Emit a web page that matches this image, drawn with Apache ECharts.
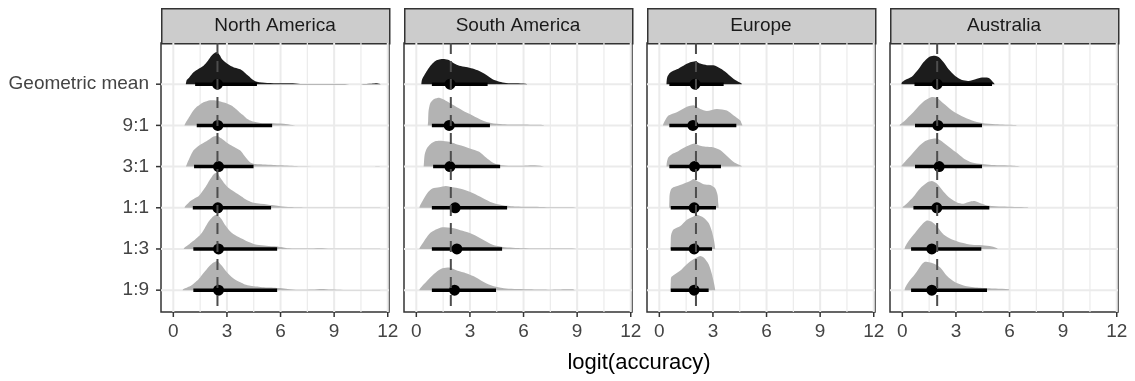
<!DOCTYPE html>
<html>
<head>
<meta charset="utf-8">
<script src="https://cdn.jsdelivr.net/npm/echarts@6/dist/echarts.min.js"></script>
<style>html,body{margin:0;padding:0;background:#fff}#chart{width:1135px;height:381px}</style>
</head>
<body>
<div id="chart"></div>
<script>
// Facets and rows
const regions = ['North America', 'South America', 'Europe', 'Australia'];
const rowLabels = ['1:9', '1:3', '1:1', '3:1', '9:1', 'Geometric mean'];
const xTicks = [0, 3, 6, 9, 12];
const xGridLines = [0, 1.5, 3, 4.5, 6, 7.5, 9, 10.5, 12];
const rowIdx = [0, 1, 2, 3, 4, 5];

// Reference (dashed) line per region
const refLine = [2.47, 1.93, 2.05, 1.95];

// Point estimates and intervals, rows ordered 1:9, 1:3, 1:1, 3:1, 9:1, Geometric mean
const medianNA = [2.53, 2.53, 2.49, 2.53, 2.49, 2.47];
const lowerNA = [1.12, 1.12, 1.09, 1.16, 1.31, 1.22];
const upperNA = [5.81, 5.81, 5.47, 4.49, 5.53, 4.68];

const medianSA = [2.14, 2.27, 2.17, 1.88, 1.84, 1.89];
const lowerSA = [0.87, 0.87, 0.87, 0.94, 0.87, 0.87];
const upperSA = [4.46, 4.80, 5.08, 4.69, 4.12, 3.99];

const medianEU = [1.95, 1.95, 1.95, 1.97, 1.88, 2.00];
const lowerEU = [0.64, 0.64, 0.64, 0.56, 0.56, 0.56];
const upperEU = [2.76, 2.95, 3.17, 3.45, 4.31, 3.60];

const medianAU = [1.65, 1.65, 1.93, 2.06, 1.99, 1.95];
const lowerAU = [0.49, 0.49, 0.62, 0.71, 0.71, 0.68];
const upperAU = [4.74, 4.42, 4.87, 4.46, 4.46, 5.02];

// Density slabs: [x, height in row units], rows ordered as above
const densityNA = [
  [[0.52,0],[0.56,0.03],[0.75,0.06],[0.95,0.1],[1.12,0.15],[1.3,0.22],[1.5,0.31],[1.7,0.42],[1.87,0.51],[2.05,0.6],[2.25,0.67],[2.44,0.71],[2.58,0.66],[2.72,0.59],[2.95,0.46],[3.19,0.35],[3.45,0.26],[3.75,0.19],[4.0,0.14],[4.31,0.11],[4.7,0.09],[5.06,0.07],[5.6,0.06],[6.0,0.05],[6.4,0.03],[7.0,0.01],[7.8,0.015],[8.3,0.03],[8.8,0.015],[9.5,0.005],[11.5,0.005],[11.6,0]],
  [[0.58,0],[0.62,0.03],[0.84,0.1],[1.0,0.16],[1.22,0.23],[1.4,0.3],[1.59,0.39],[1.75,0.5],[1.87,0.59],[2.0,0.68],[2.16,0.76],[2.3,0.81],[2.44,0.83],[2.58,0.78],[2.72,0.71],[2.9,0.58],[3.09,0.47],[3.3,0.38],[3.56,0.31],[3.85,0.25],[4.12,0.19],[4.4,0.14],[4.68,0.1],[5.2,0.08],[5.81,0.06],[6.1,0.04],[6.37,0.02],[7.5,0.01],[8.2,0.02],[8.8,0.008],[11.5,0.004],[11.6,0]],
  [[0.62,0],[0.66,0.04],[0.8,0.1],[0.94,0.16],[1.2,0.23],[1.41,0.28],[1.6,0.38],[1.78,0.49],[1.92,0.59],[2.06,0.69],[2.25,0.81],[2.44,0.85],[2.63,0.73],[2.9,0.57],[3.1,0.48],[3.37,0.4],[3.65,0.32],[3.93,0.24],[4.2,0.17],[4.5,0.12],[5.25,0.08],[6.0,0.04],[6.55,0.02],[7.5,0.008],[10,0.004],[11.5,0.004],[11.6,0]],
  [[0.7,0],[0.75,0.05],[0.9,0.2],[1.12,0.39],[1.4,0.5],[1.7,0.58],[2.0,0.66],[2.2,0.72],[2.44,0.75],[2.7,0.68],[3.0,0.58],[3.3,0.5],[3.75,0.39],[4.0,0.25],[4.31,0.1],[4.6,0.06],[5.0,0.05],[5.6,0.04],[6.0,0.03],[7,0.01],[9,0.005],[11.2,0.005],[11.5,0.01],[11.6,0]],
  [[0.62,0],[0.66,0.04],[0.8,0.14],[0.94,0.24],[1.1,0.35],[1.31,0.45],[1.5,0.51],[1.69,0.56],[2.06,0.61],[2.3,0.61],[2.53,0.59],[3.0,0.53],[3.25,0.48],[3.47,0.41],[3.7,0.32],[3.93,0.24],[4.1,0.17],[4.31,0.12],[4.6,0.08],[4.87,0.06],[5.43,0.05],[6.18,0.04],[6.65,0.01],[6.8,0]],
  [[0.7,0],[0.75,0.1],[0.9,0.17],[1.13,0.29],[1.4,0.37],[1.69,0.45],[1.9,0.55],[2.06,0.65],[2.25,0.74],[2.44,0.78],[2.6,0.7],[2.72,0.61],[2.95,0.52],[3.19,0.45],[3.45,0.4],[3.75,0.36],[4.0,0.28],[4.21,0.2],[4.45,0.11],[4.68,0.06],[5.25,0.03],[6.0,0.025],[6.56,0.02],[7.1,0.006],[8,0.002],[10.5,0.001],[11.1,0.01],[11.4,0.02],[11.6,0]]
];

const densitySA = [
  [[0.17,0],[0.19,0.03],[0.43,0.15],[0.71,0.28],[1.09,0.43],[1.46,0.53],[1.84,0.55],[2.31,0.47],[2.78,0.41],[3.34,0.31],[3.9,0.17],[4.46,0.08],[5.02,0.04],[6.33,0.02],[7.5,0.01],[8.4,0.02],[8.77,0.02],[8.86,0]],
  [[0.17,0],[0.19,0.03],[0.43,0.19],[0.71,0.36],[1.09,0.47],[1.46,0.53],[2.03,0.51],[2.59,0.44],[3.15,0.36],[3.71,0.23],[4.27,0.1],[4.84,0.05],[5.96,0.02],[7.5,0.01],[8.86,0.008],[8.95,0]],
  [[0.17,0],[0.19,0.04],[0.34,0.16],[0.62,0.36],[0.9,0.47],[1.28,0.5],[1.65,0.53],[2.12,0.49],[2.59,0.45],[3.15,0.36],[3.71,0.24],[4.27,0.12],[4.84,0.06],[5.58,0.03],[6.9,0.02],[8.0,0.01],[8.86,0.008],[8.95,0]],
  [[0.41,0],[0.43,0.12],[0.47,0.3],[0.6,0.45],[0.8,0.55],[1.09,0.62],[1.4,0.63],[1.84,0.6],[2.2,0.55],[2.6,0.5],[3.0,0.44],[3.52,0.36],[3.9,0.22],[4.27,0.1],[4.65,0.04],[5.3,0.02],[6.0,0.02],[6.5,0.03],[7.08,0.01],[7.15,0]],
  [[0.64,0],[0.66,0.1],[0.68,0.33],[0.74,0.48],[0.81,0.56],[1.0,0.64],[1.28,0.67],[1.65,0.6],[2.12,0.48],[2.59,0.36],[3.15,0.24],[3.71,0.12],[4.18,0.06],[4.84,0.03],[5.96,0.02],[7.08,0.01],[7.15,0]],
  [[0.28,0],[0.3,0.08],[0.37,0.16],[0.53,0.28],[0.71,0.4],[0.9,0.5],[1.09,0.57],[1.28,0.6],[1.56,0.61],[1.84,0.58],[2.12,0.5],[2.4,0.45],[2.78,0.42],[3.15,0.38],[3.52,0.32],[3.9,0.23],[4.27,0.12],[4.65,0.06],[5.02,0.03],[5.58,0.02],[6.11,0.01],[6.2,0]]
];

const densityEU = [
  [[0.63,0],[0.64,0.2],[0.66,0.31],[0.79,0.36],[1.16,0.47],[1.54,0.63],[1.91,0.75],[2.29,0.83],[2.48,0.79],[2.76,0.63],[2.94,0.39],[3.07,0.15],[3.13,0]],
  [[0.63,0],[0.64,0.2],[0.66,0.34],[0.79,0.47],[1.16,0.55],[1.54,0.71],[1.91,0.79],[2.1,0.83],[2.48,0.76],[2.76,0.63],[2.94,0.43],[3.07,0.19],[3.13,0]],
  [[0.55,0],[0.56,0.15],[0.58,0.33],[0.69,0.47],[1.16,0.55],[1.73,0.65],[1.91,0.7],[2.2,0.63],[2.48,0.57],[2.85,0.55],[3.13,0.47],[3.26,0.31],[3.3,0.1],[3.32,0]],
  [[0.4,0],[0.42,0.1],[0.5,0.22],[0.7,0.3],[1.0,0.36],[1.35,0.45],[1.73,0.53],[1.95,0.56],[2.2,0.52],[2.6,0.48],[3.0,0.47],[3.4,0.4],[3.8,0.25],[4.2,0.1],[4.59,0.02],[4.62,0]],
  [[0.2,0],[0.22,0.03],[0.32,0.12],[0.51,0.24],[0.98,0.32],[1.54,0.45],[1.91,0.49],[2.29,0.4],[2.66,0.35],[3.22,0.4],[3.78,0.36],[4.16,0.24],[4.53,0.12],[4.6,0.05],[4.65,0]],
  [[0.4,0],[0.41,0.08],[0.45,0.18],[0.6,0.28],[0.98,0.36],[1.35,0.45],[1.73,0.53],[2.01,0.56],[2.29,0.5],[2.66,0.46],[3.13,0.45],[3.5,0.36],[3.88,0.23],[4.25,0.1],[4.59,0.02],[4.62,0]]
];

const densityAU = [
  [[0.13,0],[0.15,0.05],[0.34,0.19],[0.71,0.39],[1.09,0.63],[1.28,0.69],[1.56,0.67],[1.84,0.63],[2.12,0.55],[2.49,0.35],[2.96,0.19],[3.52,0.1],[4.27,0.06],[5.21,0.04],[5.96,0.02],[6.0,0]],
  [[0.13,0],[0.15,0.05],[0.34,0.19],[0.71,0.39],[1.09,0.59],[1.37,0.69],[1.65,0.66],[1.93,0.55],[2.31,0.35],[2.78,0.23],[3.34,0.15],[3.9,0.1],[4.46,0.09],[5.02,0.06],[5.3,0.02],[5.35,0]],
  [[0,0],[0.02,0.02],[0.24,0.1],[0.62,0.27],[0.99,0.47],[1.37,0.61],[1.65,0.65],[1.93,0.59],[2.31,0.39],[2.68,0.23],[3.06,0.13],[3.43,0.1],[3.81,0.15],[4.09,0.16],[4.46,0.1],[4.84,0.05],[5.58,0.03],[6.99,0.01],[7.05,0]],
  [[-0.05,0],[-0.03,0.03],[0.15,0.12],[0.53,0.3],[0.9,0.48],[1.28,0.62],[1.65,0.67],[1.93,0.68],[2.31,0.58],[2.78,0.42],[3.15,0.3],[3.5,0.18],[3.9,0.1],[4.46,0.06],[5.0,0.04],[5.6,0.03],[6.2,0.02],[6.52,0.01],[6.6,0]],
  [[-0.15,0],[-0.13,0.02],[0.15,0.12],[0.53,0.28],[0.9,0.46],[1.28,0.61],[1.65,0.69],[1.93,0.67],[2.31,0.53],[2.78,0.36],[3.34,0.22],[3.9,0.12],[4.46,0.06],[5.21,0.03],[6.33,0.01],[6.4,0]],
  [[-0.05,0],[-0.03,0.04],[0.15,0.1],[0.53,0.18],[0.9,0.36],[1.18,0.53],[1.46,0.65],[1.74,0.69],[2.03,0.66],[2.31,0.53],[2.59,0.36],[2.96,0.2],[3.34,0.1],[3.71,0.08],[4.09,0.12],[4.46,0.16],[4.84,0.15],[5.1,0.04],[5.17,0]]
];

const medians = [medianNA, medianSA, medianEU, medianAU];
const lowers = [lowerNA, lowerSA, lowerEU, lowerAU];
const uppers = [upperNA, upperSA, upperEU, upperAU];
const densities = [densityNA, densitySA, densityEU, densityAU];

const FONT = '"Liberation Sans", Arial, Helvetica, sans-serif';
const panelLeft = [161, 404, 647, 890];
const panelWidth = 228;
const panelTop = 43;
const panelHeight = 269;
const TICK_LEN = 5;

const chart = echarts.init(document.getElementById('chart'), null, { renderer: 'canvas' });

const grids = [], xAxes = [], yAxes = [], series = [], graphics = [];

// bounding box of a point list, used to keep smoothed outlines inside it
function bbox(pts) {
  const mn = [Infinity, Infinity], mx = [-Infinity, -Infinity];
  pts.forEach(p => {
    mn[0] = Math.min(mn[0], p[0]); mn[1] = Math.min(mn[1], p[1]);
    mx[0] = Math.max(mx[0], p[0]); mx[1] = Math.max(mx[1], p[1]);
  });
  return [mn, mx];
}

regions.forEach((name, i) => {
  grids.push({
    left: panelLeft[i], top: panelTop, width: panelWidth, height: panelHeight,
    show: true, borderColor: '#333', borderWidth: 1.5, backgroundColor: '#fff',
    containLabel: false, outerBoundsMode: 'none'
  });
  xAxes.push({
    type: 'value', gridIndex: i, min: -0.69, max: 12.07,
    axisLine: { show: false }, splitLine: { show: false }, axisTick: { show: false },
    axisLabel: { show: true, customValues: xTicks, margin: 10, color: '#444', fontSize: 19, fontFamily: FONT }
  });
  yAxes.push({
    type: 'value', gridIndex: i, min: -0.53, max: 6.0,
    axisLine: { show: false }, splitLine: { show: false }, axisTick: { show: false },
    axisLabel: { show: i === 0, customValues: rowIdx, margin: 12, color: '#444', fontSize: 19, fontFamily: FONT,
      formatter: v => rowLabels[Math.round(v)] }
  });

  // background grid lines
  series.push({
    type: 'custom', xAxisIndex: i, yAxisIndex: i, z: 1, silent: true, animation: false,
    data: xGridLines.map(v => [v, 0]).concat(rowIdx.map(r => [r, 1])),
    renderItem: (params, api) => {
      const cs = params.coordSys;
      const v = api.value(0), o = api.value(1);
      if (o === 0) {
        const x = api.coord([v, 0])[0];
        return { type: 'line', shape: { x1: x, y1: cs.y, x2: x, y2: cs.y + cs.height },
          style: { stroke: '#ebebeb', lineWidth: v % 3 === 0 ? 2 : 1.2 } };
      }
      const y = api.coord([0, v])[1];
      return { type: 'line', shape: { x1: cs.x, y1: y, x2: cs.x + cs.width, y2: y },
        style: { stroke: '#ebebeb', lineWidth: 2 } };
    }
  });

  // axis tick marks outside the panel border
  const tickData = xTicks.map(v => [v, 0]);
  if (i === 0) rowIdx.forEach(r => tickData.push([r, 1]));
  series.push({
    type: 'custom', xAxisIndex: i, yAxisIndex: i, z: 5, silent: true, animation: false, clip: false,
    data: tickData,
    renderItem: (params, api) => {
      const cs = params.coordSys;
      const v = api.value(0), o = api.value(1);
      if (o === 0) {
        const x = api.coord([v, 0])[0];
        const y0 = cs.y + cs.height;
        return { type: 'line', shape: { x1: x, y1: y0, x2: x, y2: y0 + TICK_LEN },
          style: { stroke: '#333', lineWidth: 1.5 } };
      }
      const y = api.coord([0, v])[1];
      return { type: 'line', shape: { x1: cs.x - TICK_LEN, y1: y, x2: cs.x, y2: y },
        style: { stroke: '#333', lineWidth: 1.5 } };
    }
  });

  // density slabs
  series.push({
    type: 'custom', xAxisIndex: i, yAxisIndex: i, z: 2, silent: true, animation: false,
    data: rowIdx.map(r => [medians[i][r], r]),
    renderItem: (params, api) => {
      const r = params.dataIndex;
      const pts = densities[i][r].map(p => api.coord([p[0], r + p[1]]));
      return { type: 'polygon', shape: { points: pts, smooth: 0.25, smoothConstraint: bbox(pts) },
        style: { fill: r === 5 ? '#1c1c1c' : '#b3b3b3' } };
    }
  });

  // point + interval
  series.push({
    type: 'custom', xAxisIndex: i, yAxisIndex: i, z: 3, silent: true, animation: false,
    data: rowIdx.map(r => [medians[i][r], r, lowers[i][r], uppers[i][r]]),
    renderItem: (params, api) => {
      const r = api.value(1);
      const a = api.coord([api.value(2), r]);
      const b = api.coord([api.value(3), r]);
      const c = api.coord([api.value(0), r]);
      return { type: 'group', children: [
        { type: 'line', shape: { x1: a[0], y1: a[1], x2: b[0], y2: b[1] }, style: { stroke: '#000', lineWidth: 3.5 } },
        { type: 'circle', shape: { cx: c[0], cy: c[1], r: 5.5 }, style: { fill: '#000' } }
      ] };
    }
  });

  // dashed reference line
  series.push({
    type: 'custom', xAxisIndex: i, yAxisIndex: i, z: 4, silent: true, animation: false,
    data: [[refLine[i], 0]],
    renderItem: (params, api) => {
      const cs = params.coordSys;
      const x = api.coord([api.value(0), 0])[0];
      return { type: 'line', shape: { x1: x, y1: cs.y, x2: x, y2: cs.y + cs.height },
        style: { stroke: '#4d4d4d', lineWidth: 2, lineDash: [11, 7] } };
    }
  });

  // facet strip
  graphics.push({
    type: 'rect', left: panelLeft[i], top: 8,
    shape: { width: panelWidth, height: 35 },
    style: { fill: '#cccccc', stroke: '#333', lineWidth: 1.5 }, silent: true
  });
  graphics.push({
    type: 'text', x: panelLeft[i] + panelWidth / 2, y: 26,
    style: { text: name, x: 0, y: 0, align: 'center', verticalAlign: 'middle',
      fill: '#1a1a1a', font: '19px ' + FONT }, silent: true
  });
});

graphics.push({
  type: 'text', x: 639, y: 363,
  style: { text: 'logit(accuracy)', align: 'center', verticalAlign: 'middle',
    fill: '#000', font: '22px ' + FONT }, silent: true
});

chart.setOption({
  animation: false,
  backgroundColor: '#fff',
  grid: grids,
  xAxis: xAxes,
  yAxis: yAxes,
  series: series,
  graphic: graphics
});
</script>
</body>
</html>
